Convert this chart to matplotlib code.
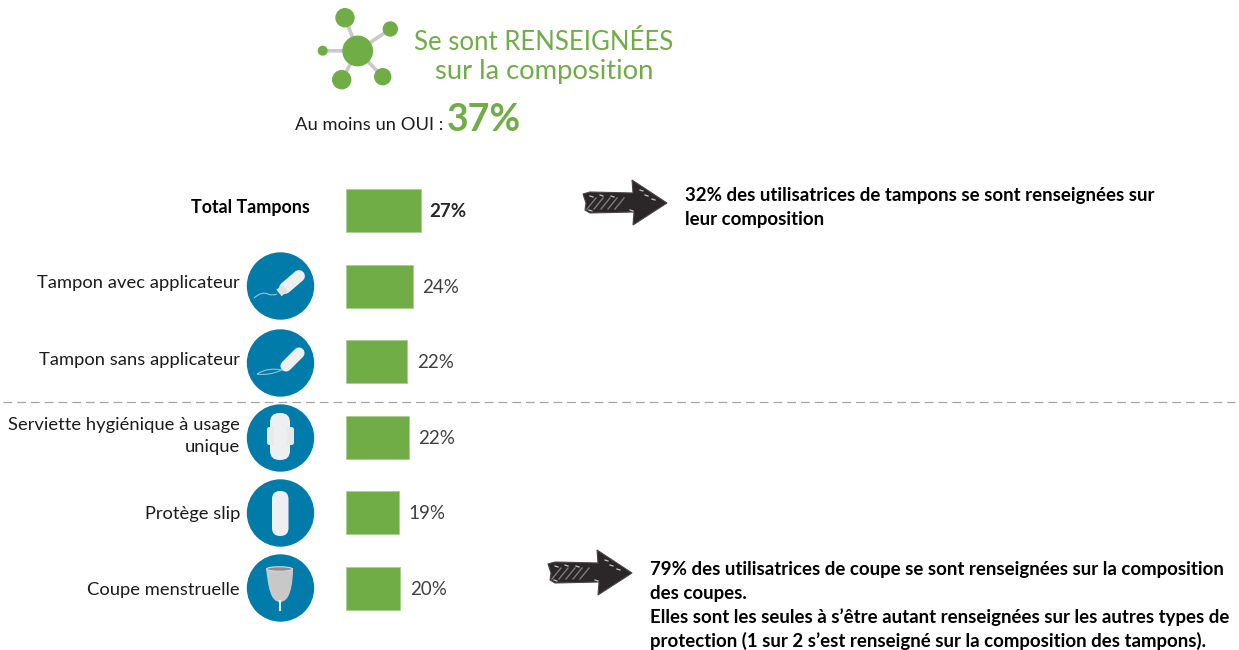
import matplotlib
matplotlib.use("Agg")
import matplotlib.pyplot as plt
from matplotlib.patches import Circle, Polygon, Ellipse, FancyBboxPatch, PathPatch
from matplotlib.path import Path

plt.rcParams['font.family'] = ['Lato', 'DejaVu Sans']

W, H = 1239, 650

# data
categories = ["Total Tampons", "Tampon avec applicateur", "Tampon sans applicateur",
              "Serviette hygiénique à usage\nunique", "Protège slip", "Coupe menstruelle"]
values = [27, 24, 22, 22.5, 19, 19.5]
value_labels = ["27%", "24%", "22%", "22%", "19%", "20%"]

# layout, in pixels
bar_centres = [210.5, 286, 361.5, 437.5, 512.5, 588.5]
label_y = [208, 283, 360, 436, 514, 590]
icon_y = [286, 363, 438, 513, 588]

GREEN = "#70AD47"
BLUE = "#007BAA"
LINK = "#C9C9C9"
PALE = "#EDEFF0"
DARK = "#1C1C1C"
VALUE = "#404040"

fig = plt.figure(figsize=(W / 100, H / 100), dpi=100)
ax = fig.add_axes([0, 0, 1, 1])
ax.set_xlim(0, W)
ax.set_ylim(H, 0)
ax.axis("off")

# bars get their own axes, so 1% = 2.78 px starting at x=346
bar_ax = fig.add_axes([346 / W, 0, 278 / W, 1])
bar_ax.set_xlim(0, 100)
bar_ax.set_ylim(H, 0)
bar_ax.axis("off")
bar_ax.patch.set_alpha(0)
bar_ax.barh(bar_centres, values, height=43, color=GREEN, edgecolor="#A9CE91", linewidth=0.6)
for i, (v, lab) in enumerate(zip(values, value_labels)):
    bold = i == 0
    bar_ax.annotate(lab, (v, bar_centres[i]), xytext=(6 if bold else 7, -1), textcoords="offset points",
                    va="center", ha="left", fontsize=13.5, color="#262626" if bold else VALUE,
                    fontweight="bold" if bold else "normal")

# category labels
for i, cat in enumerate(categories):
    if i == 0:
        ax.text(310, label_y[i], cat, ha="right", va="center", fontsize=12.9,
                fontweight="bold", color="black")
    else:
        ax.text(240, label_y[i], cat, ha="right", va="center", fontsize=13.25,
                color=DARK, linespacing=1.5)

# header with the network icon
hub = (357.7, 51)
nodes = [(345, 17.7, 9), (390.3, 29, 7), (322.7, 50.7, 4.3), (341.7, 79.7, 9), (382.7, 76.7, 8)]
for nx, ny, r in nodes:
    ax.plot([hub[0], nx], [hub[1], ny], color=LINK, lw=2.6, zorder=1)
    ax.add_patch(Circle((nx, ny), r, color=GREEN, zorder=2))
ax.add_patch(Circle(hub, 14.7, color=GREEN, zorder=2))

ax.text(544, 42, "Se sont RENSEIGNÉES", ha="center", va="center", fontsize=18.5, color=GREEN)
ax.text(544, 72, "sur la composition", ha="center", va="center", fontsize=19.7, color=GREEN)
ax.text(295, 125, "Au moins un OUI :", ha="left", va="center", fontsize=13.2, color=DARK)
ax.text(447, 120, "37%", ha="left", va="center", fontsize=27, fontweight="bold", color=GREEN)

# separator
ax.plot([3, 1235], [401.5, 401.5], color="#A6A6A6", lw=0.9, dashes=(7, 4))

# round icons
for y in icon_y:
    ax.add_patch(Circle((280.5, y), 33, color=BLUE, zorder=2))


def string(pts):
    codes = [Path.MOVETO] + [Path.CURVE3] * (len(pts) - 1)
    ax.add_patch(PathPatch(Path(pts, codes), fill=False, edgecolor="#9DBFD0", lw=0.8, zorder=3))


# tampon with applicator
ax.plot([285, 299], [288, 276], color=PALE, lw=8.5, solid_capstyle="round", zorder=3)
ax.plot([279, 285], [293, 288], color="#DDE1E3", lw=6, solid_capstyle="butt", zorder=3)
string([(254, 298), (262, 291), (268, 294), (272, 296), (277, 294)])

# tampon without applicator
ax.plot([286, 299], [366, 353], color=PALE, lw=8, solid_capstyle="round", zorder=3)
string([(257, 374), (268, 367), (282, 370), (268, 376), (257, 374)])

# pad
ax.add_patch(FancyBboxPatch((270, 413), 20, 47, boxstyle="round,pad=0,rounding_size=9.5",
                            facecolor=PALE, edgecolor="none", zorder=3))
ax.add_patch(FancyBboxPatch((267, 427), 27, 18, boxstyle="round,pad=0,rounding_size=2.5",
                            facecolor="#E6E8EA", edgecolor="none", zorder=3))
ax.add_patch(Ellipse((280.5, 436), 14, 40, facecolor=PALE, edgecolor="none", zorder=4))

# panty liner
ax.add_patch(FancyBboxPatch((272, 491), 16.5, 45, boxstyle="round,pad=0,rounding_size=8",
                            facecolor=PALE, edgecolor="none", zorder=3))

# cup
cup = Path([(266, 568), (293, 568), (293, 585), (290, 602), (280, 602), (270, 602), (268, 585), (266, 568)],
           [Path.MOVETO, Path.LINETO, Path.CURVE4, Path.CURVE4, Path.CURVE4, Path.CURVE4, Path.CURVE4, Path.CURVE4])
ax.add_patch(PathPatch(cup, facecolor="#C8C8C8", edgecolor="none", zorder=3))
ax.add_patch(Ellipse((279.5, 569), 26, 4.5, facecolor="#8E8E8E", edgecolor="#D8D8D8", lw=0.8, zorder=4))
ax.plot([279.5, 279.5], [601, 610], color=PALE, lw=1.5, zorder=3)


# scribbled arrows
def arrow(dx, dy):
    shape = [(583, 194), (590, 192), (633, 193), (632, 180), (667, 203), (633, 225), (634, 212),
             (590, 213), (585, 210), (586, 203)]
    ax.add_patch(Polygon([(x + dx, y + dy) for x, y in shape], closed=True,
                         facecolor="#2B2728", edgecolor="#4A4647", lw=0.8, zorder=3))
    for x in [587, 594, 601, 608, 615]:
        ax.plot([x + dx, x + 9 + dx], [209 + dy, 198 + dy], color="#7D7A7A", lw=1.0, zorder=4)
    for x, y in [(590, 196), (600, 195), (611, 196), (640, 190), (645, 195), (652, 199), (589, 210), (630, 210)]:
        ax.plot([x + dx, x + 3 + dx], [y + dy, y + dy + 1], color="#C9C7C7", lw=0.9, zorder=4)


arrow(0, 0)
arrow(-35, 370)

# comments on the right
ax.text(685, 196, "32% des utilisatrices de tampons se sont renseignées sur",
        va="center", fontsize=13.4, fontweight="bold", color="black")
ax.text(685, 219, "leur composition", va="center", fontsize=13.4, fontweight="bold", color="black")
notes = ["79% des utilisatrices de coupe se sont renseignées sur la composition",
         "des coupes.",
         "Elles sont les seules à s’être autant renseignées sur les autres types de",
         "protection (1 sur 2 s’est renseigné sur la composition des tampons)."]
for y, line in zip([569, 593, 617, 641], notes):
    ax.text(650, y, line, va="center", fontsize=13.4, fontweight="bold", color="black")

fig.savefig("out.png", dpi=100, facecolor="white")
